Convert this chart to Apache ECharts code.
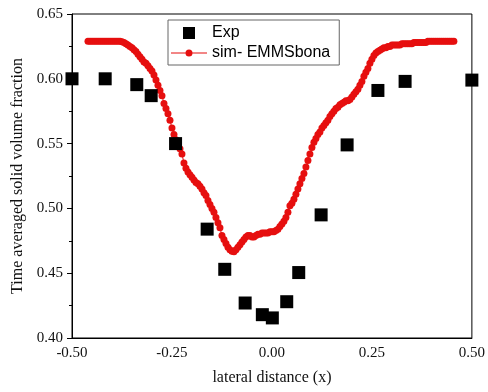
<!DOCTYPE html>
<html>
<head>
<meta charset="utf-8">
<script src="https://cdn.jsdelivr.net/npm/echarts@6/dist/echarts.min.js"></script>
<style>
  html, body { margin: 0; padding: 0; background: #fff; }
  #chart { width: 488px; height: 392px; }
</style>
</head>
<body>
<div id="chart"></div>
<script>
// Measured solid volume fraction (squares)
const expX = [-0.50, -0.417, -0.338, -0.302, -0.241, -0.162, -0.118, -0.067, -0.024, 0.001, 0.037, 0.067, 0.123, 0.188, 0.265, 0.333, 0.50];
const expY = [0.600, 0.600, 0.5955, 0.587, 0.550, 0.484, 0.453, 0.427, 0.418, 0.4155, 0.428, 0.4505, 0.495, 0.549, 0.591, 0.598, 0.599];

// Simulated profile (EMMS bona drag), sampled across the bed
const simX = [
  -0.460, -0.455, -0.450, -0.445, -0.440, -0.435, -0.430, -0.425, -0.420, -0.415,
  -0.410, -0.405, -0.400, -0.395, -0.390, -0.385, -0.380, -0.375, -0.370, -0.365,
  -0.360, -0.355, -0.350, -0.345, -0.340, -0.335, -0.330, -0.325, -0.320, -0.315,
  -0.310, -0.305, -0.300, -0.295, -0.290, -0.285, -0.280, -0.275, -0.270, -0.265,
  -0.260, -0.255, -0.250, -0.245, -0.240, -0.235, -0.230, -0.225, -0.220, -0.215,
  -0.210, -0.205, -0.200, -0.195, -0.190, -0.185, -0.180, -0.175, -0.170, -0.165,
  -0.160, -0.155, -0.150, -0.145, -0.140, -0.135, -0.130, -0.125, -0.120, -0.115,
  -0.110, -0.105, -0.100, -0.095, -0.090, -0.085, -0.080, -0.075, -0.070, -0.065,
  -0.060, -0.055, -0.050, -0.045, -0.040, -0.035, -0.030, -0.025, -0.020, -0.015,
  -0.010, -0.005, 0.000, 0.005, 0.010, 0.015, 0.020, 0.025, 0.030, 0.035,
  0.040, 0.045, 0.050, 0.055, 0.060, 0.065, 0.070, 0.075, 0.080, 0.085,
  0.090, 0.095, 0.100, 0.105, 0.110, 0.115, 0.120, 0.125, 0.130, 0.135,
  0.140, 0.145, 0.150, 0.155, 0.160, 0.165, 0.170, 0.175, 0.180, 0.185,
  0.190, 0.195, 0.200, 0.205, 0.210, 0.215, 0.220, 0.225, 0.230, 0.235,
  0.240, 0.245, 0.250, 0.255, 0.260, 0.265, 0.270, 0.275, 0.280, 0.285,
  0.290, 0.295, 0.300, 0.305, 0.310, 0.315, 0.320, 0.325, 0.330, 0.335,
  0.340, 0.345, 0.350, 0.355, 0.360, 0.365, 0.370, 0.375, 0.380, 0.385,
  0.390, 0.395, 0.400, 0.405, 0.410, 0.415, 0.420, 0.425, 0.430, 0.435,
  0.440, 0.445, 0.450, 0.455
];
const simY = [
  0.629, 0.629, 0.629, 0.629, 0.629, 0.629, 0.629, 0.629, 0.629, 0.629,
  0.629, 0.629, 0.629, 0.629, 0.629, 0.629, 0.629, 0.6285, 0.628, 0.627,
  0.626, 0.625, 0.624, 0.6225, 0.621, 0.619, 0.617, 0.615, 0.613, 0.612,
  0.610, 0.608, 0.606, 0.603, 0.599, 0.595, 0.591, 0.587, 0.581, 0.577,
  0.573, 0.568, 0.562, 0.557, 0.553, 0.549, 0.546, 0.542, 0.535, 0.531,
  0.528, 0.526, 0.524, 0.522, 0.520, 0.519, 0.517, 0.515, 0.512, 0.510,
  0.506, 0.503, 0.500, 0.497, 0.493, 0.489, 0.485, 0.479, 0.476, 0.473,
  0.470, 0.468, 0.467, 0.4665, 0.468, 0.470, 0.472, 0.474, 0.476, 0.478,
  0.479, 0.479, 0.478, 0.478, 0.479, 0.480, 0.480, 0.481, 0.481, 0.481,
  0.481, 0.482, 0.482, 0.482, 0.483, 0.484, 0.486, 0.488, 0.490, 0.493,
  0.497, 0.502, 0.504, 0.507, 0.511, 0.515, 0.519, 0.523, 0.527, 0.532,
  0.537, 0.542, 0.547, 0.551, 0.554, 0.557, 0.559, 0.562, 0.564, 0.566,
  0.568, 0.571, 0.573, 0.575, 0.577, 0.578, 0.580, 0.581, 0.582, 0.583,
  0.583, 0.584, 0.586, 0.588, 0.590, 0.592, 0.595, 0.598, 0.602, 0.605,
  0.608, 0.612, 0.615, 0.618, 0.620, 0.621, 0.622, 0.623, 0.624, 0.624,
  0.625, 0.625, 0.626, 0.626, 0.626, 0.626, 0.626, 0.627, 0.627, 0.627,
  0.627, 0.627, 0.627, 0.628, 0.628, 0.628, 0.628, 0.628, 0.628, 0.628,
  0.629, 0.629, 0.629, 0.629, 0.629, 0.629, 0.629, 0.629, 0.629, 0.629,
  0.629, 0.629, 0.629, 0.629
];

const xTicks = { min: -0.5, max: 0.5, step: 0.25 };
const yTicks = { min: 0.40, max: 0.65, step: 0.05 };

const expName = 'Exp';
const simName = 'sim- EMMSbona';

const zip = (xs, ys) => xs.map((x, i) => [x, ys[i]]);

const serif = 'Liberation Serif, Times New Roman, serif';
const sans = 'Liberation Sans, Arial, sans-serif';
const simColor = '#e60f0f';

const chart = echarts.init(document.getElementById('chart'), null, { renderer: 'canvas' });

chart.setOption({
  backgroundColor: '#fff',
  animation: false,
  grid: {
    left: 72, right: 14, top: 14, bottom: 54,
    show: true, borderColor: '#000', borderWidth: 1, backgroundColor: 'transparent'
  },
  legend: {
    left: 168, top: 20,
    orient: 'vertical',
    padding: [5, 9, 4, 3],
    itemWidth: 36, itemHeight: 12, itemGap: 4,
    borderColor: '#666', borderWidth: 1,
    symbolKeepAspect: true,
    textStyle: { fontFamily: sans, fontSize: 16, color: '#000' },
    data: [
      { name: expName, icon: 'path://M0,0H13V13H0Z' },
      { name: simName, icon: 'path://M0,5.5H14.6V6.5H0Z M21.4,5.5H36V6.5H21.4Z M21.5,6A3.5,3.5 0 1 1 14.5,6A3.5,3.5 0 1 1 21.5,6Z' }
    ]
  },
  xAxis: {
    type: 'value',
    min: xTicks.min, max: xTicks.max, interval: xTicks.step,
    name: 'lateral distance (x)',
    nameLocation: 'middle', nameGap: 32,
    nameTextStyle: { fontFamily: serif, fontSize: 16, color: '#111' },
    axisLine: { show: true, onZero: false, lineStyle: { color: '#000', width: 1 } },
    axisTick: { show: false },
    splitLine: { show: false },
    axisLabel: {
      margin: 8, fontFamily: serif, fontSize: 15, color: '#111',
      formatter: v => v.toFixed(2)
    }
  },
  yAxis: {
    type: 'value',
    min: yTicks.min, max: yTicks.max, interval: yTicks.step,
    name: 'Time averaged solid volume fraction',
    nameLocation: 'middle', nameGap: 46,
    nameTextStyle: { fontFamily: serif, fontSize: 16, color: '#111' },
    axisLine: { show: true, onZero: false, lineStyle: { color: '#000', width: 1 } },
    axisTick: { show: true, inside: false, length: 5, lineStyle: { color: '#000' } },
    minorTick: { show: true, splitNumber: 2, length: 3, lineStyle: { color: '#000' } },
    splitLine: { show: false },
    axisLabel: {
      margin: 9, fontFamily: serif, fontSize: 15, color: '#111',
      formatter: v => v.toFixed(2)
    }
  },
  series: [
    {
      name: expName,
      type: 'scatter',
      data: zip(expX, expY),
      symbol: 'rect',
      symbolSize: 13,
      itemStyle: { color: '#000', opacity: 1 },
      z: 3
    },
    {
      name: simName,
      type: 'line',
      data: zip(simX, simY),
      symbol: 'circle',
      symbolSize: 7,
      showAllSymbol: true,
      lineStyle: { color: simColor, width: 1 },
      itemStyle: { color: simColor, opacity: 1 },
      z: 2
    }
  ]
});
</script>
</body>
</html>
